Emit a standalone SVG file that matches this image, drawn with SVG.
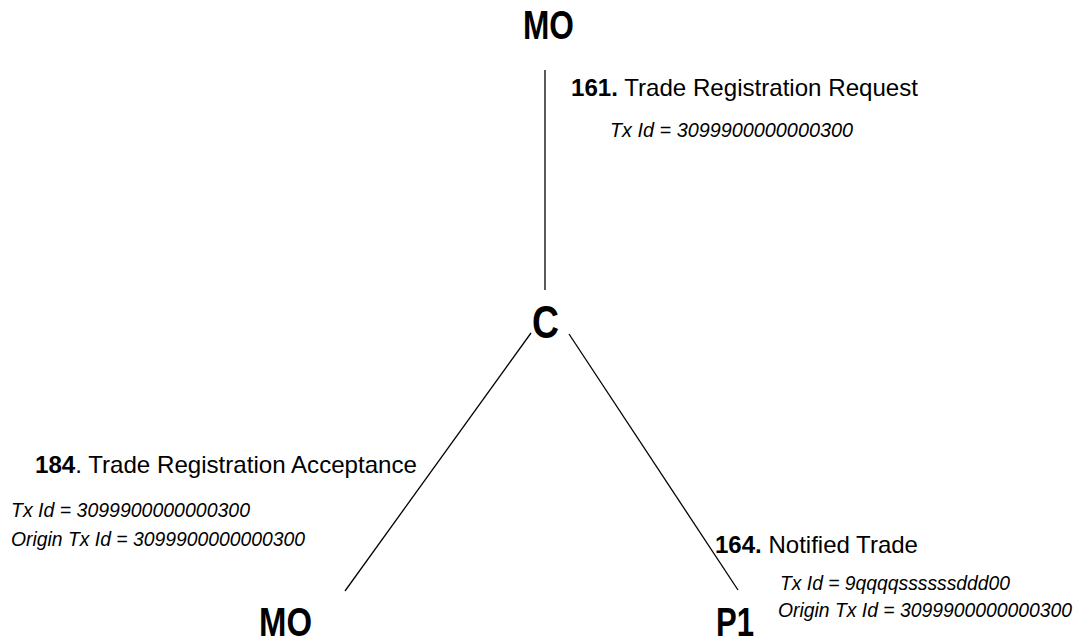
<svg xmlns="http://www.w3.org/2000/svg" width="1083" height="643" viewBox="0 0 1083 643">
<style>
.node{font-family:"Liberation Sans",Arial,sans-serif;font-weight:bold;font-size:40px;fill:#000}
.lbl{font-family:"Liberation Sans",Arial,sans-serif;font-size:24px;fill:#000}
.b{font-weight:bold}
.id{font-family:"Liberation Sans",Arial,sans-serif;font-size:21px;font-style:italic;fill:#000}
.edge{stroke:#000;stroke-width:1.3;fill:none}
</style>
<rect width="1083" height="643" fill="#fff"/>
<g id="connectors">
<line class="edge" x1="545" y1="70" x2="545" y2="290"/>
<line class="edge" x1="531" y1="333" x2="345" y2="591"/>
<line class="edge" x1="569" y1="334" x2="738" y2="590"/>
</g>
<g id="node-mo-top"><text class="node" x="523" y="39" textLength="51" lengthAdjust="spacingAndGlyphs">MO</text></g>
<g id="node-c"><text class="node" x="532" y="338" style="font-size:47px" textLength="27" lengthAdjust="spacingAndGlyphs">C</text></g>
<g id="node-mo-bottom"><text class="node" x="259" y="636" textLength="53" lengthAdjust="spacingAndGlyphs">MO</text></g>
<g id="node-p1"><text class="node" x="716" y="636" textLength="38" lengthAdjust="spacingAndGlyphs">P1</text></g>
<g id="label-161">
<text class="lbl" x="571" y="96" textLength="347" lengthAdjust="spacingAndGlyphs"><tspan class="b">161.</tspan> Trade Registration Request</text>
<text class="id" x="610" y="137" textLength="243" lengthAdjust="spacingAndGlyphs">Tx Id = 3099900000000300</text>
</g>
<g id="label-184">
<text class="lbl" x="35" y="473" textLength="382" lengthAdjust="spacingAndGlyphs"><tspan class="b">184</tspan>. Trade Registration Acceptance</text>
<text class="id" x="11" y="517" textLength="239" lengthAdjust="spacingAndGlyphs">Tx Id = 3099900000000300</text>
<text class="id" x="11" y="546" textLength="294" lengthAdjust="spacingAndGlyphs">Origin Tx Id = 3099900000000300</text>
</g>
<g id="label-164">
<text class="lbl" x="715" y="553" textLength="203" lengthAdjust="spacingAndGlyphs"><tspan class="b">164.</tspan> Notified Trade</text>
<text class="id" x="780" y="590" textLength="230" lengthAdjust="spacingAndGlyphs">Tx Id = 9qqqqssssssddd00</text>
<text class="id" x="778" y="617" textLength="294" lengthAdjust="spacingAndGlyphs">Origin Tx Id = 3099900000000300</text>
</g>
</svg>
